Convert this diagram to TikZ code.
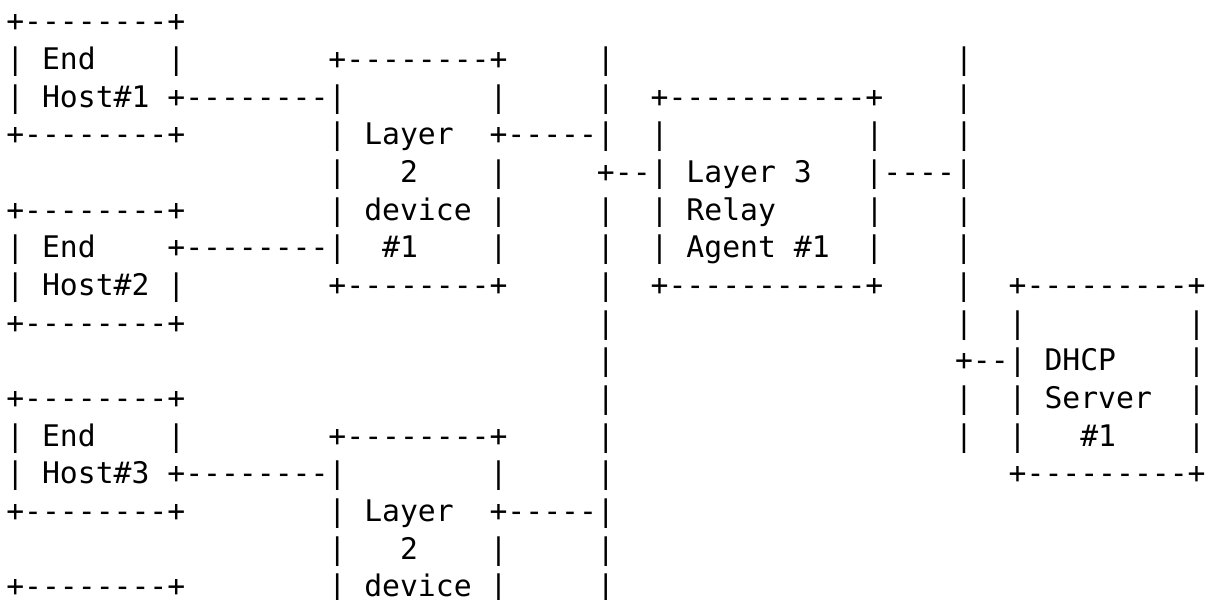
\documentclass[tikz,border=0pt]{standalone}
\usepackage{fontspec}
\setmonofont{DejaVu Sans Mono}
\usepackage{tikz}

\newcommand\asciifont{\ttfamily\fontsize{22.3pt}{30pt}\selectfont}
\newcommand\gap[1]{\kern#1\fontcharwd\font`0\relax}

\tikzset{asciirow/.style={anchor=base west, inner sep=0pt, font=\asciifont}}

\begin{document}
\begin{tikzpicture}[x=0.75pt, y=-0.75pt]

    \useasboundingbox (0,0) rectangle (1215,600);

    \node[asciirow] (row0) at (6.0,31.7) {+--------+};

    \node[asciirow] (row1) at (6.0,69.4) {| End\gap{4}|\gap{8}+--------+\gap{5}|\gap{19}|};

    \node[asciirow] (row2) at (6.0,107.0) {| Host\#1 +--------|\gap{8}|\gap{5}|\gap{2}+-----------+\gap{4}|};

    \node[asciirow] (row3) at (6.0,144.7) {+--------+\gap{8}| Layer\gap{2}+-----|\gap{2}|\gap{11}|\gap{4}|};

    \node[asciirow] (row4) at (6.0,182.4) {\gap{18}|\gap{3}2\gap{4}|\gap{5}+--| Layer 3\gap{3}|----|};

    \node[asciirow] (row5) at (6.0,220.1) {+--------+\gap{8}| device |\gap{5}|\gap{2}| Relay\gap{5}|\gap{4}|};

    \node[asciirow] (row6) at (6.0,257.7) {| End\gap{4}+--------|\gap{2}\#1\gap{4}|\gap{5}|\gap{2}| Agent \#1\gap{2}|\gap{4}|};

    \node[asciirow] (row7) at (6.0,295.4) {| Host\#2 |\gap{8}+--------+\gap{5}|\gap{2}+-----------+\gap{4}|\gap{2}+---------+};

    \node[asciirow] (row8) at (6.0,333.1) {+--------+\gap{23}|\gap{19}|\gap{2}|\gap{9}|};

    \node[asciirow] (row9) at (6.0,370.7) {\gap{33}|\gap{19}+--| DHCP\gap{4}|};

    \node[asciirow] (row10) at (6.0,408.4) {+--------+\gap{23}|\gap{19}|\gap{2}| Server\gap{2}|};

    \node[asciirow] (row11) at (6.0,446.1) {| End\gap{4}|\gap{8}+--------+\gap{5}|\gap{19}|\gap{2}|\gap{3}\#1\gap{4}|};

    \node[asciirow] (row12) at (6.0,483.7) {| Host\#3 +--------|\gap{8}|\gap{5}|\gap{22}+---------+};

    \node[asciirow] (row13) at (6.0,521.4) {+--------+\gap{8}| Layer\gap{2}+-----|};

    \node[asciirow] (row14) at (6.0,559.1) {\gap{18}|\gap{3}2\gap{4}|\gap{5}|};

    \node[asciirow] (row15) at (6.0,596.7) {+--------+\gap{8}| device |\gap{5}|};

\end{tikzpicture}
\end{document}
